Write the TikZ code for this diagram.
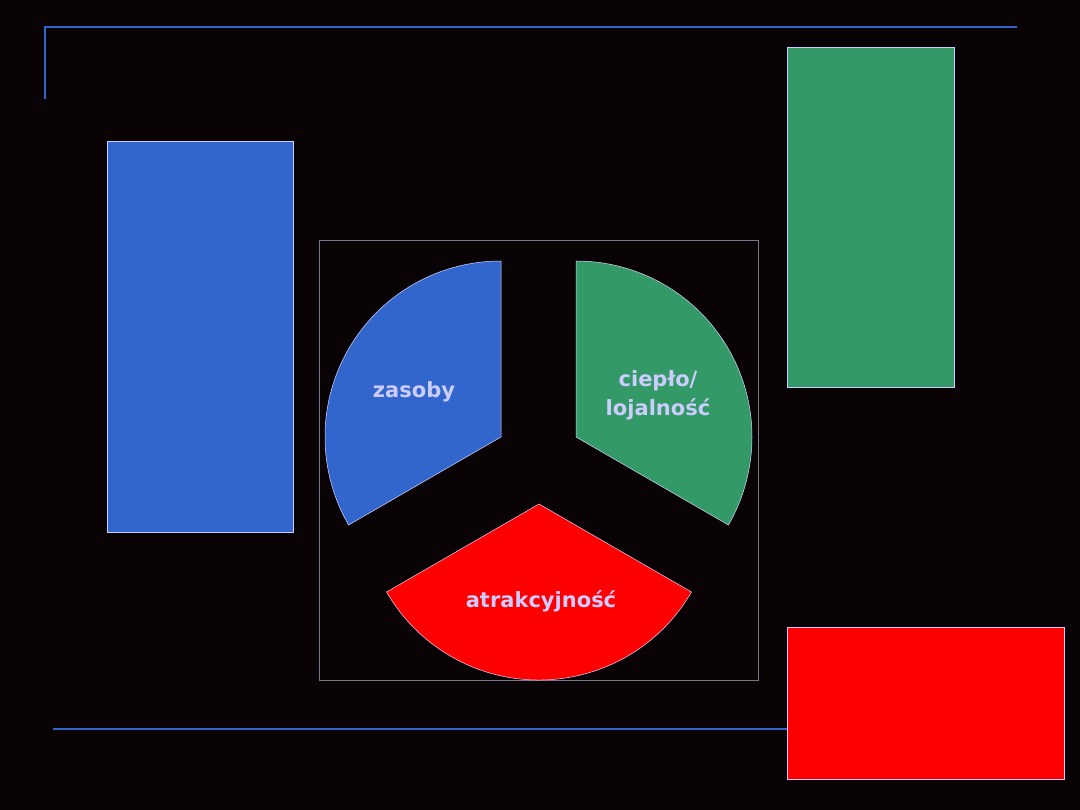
\documentclass[tikz,border=0pt]{standalone}
\usepackage{fontspec}
\setmainfont{DejaVu Sans}
\definecolor{bg}{HTML}{0A0306}
\definecolor{myblue}{HTML}{3366CC}
\definecolor{mygreen}{HTML}{339966}
\definecolor{myred}{HTML}{FF0000}
\definecolor{lav}{HTML}{CCCCFF}
\definecolor{boxgray}{HTML}{77778A}
\begin{document}
\begin{tikzpicture}[x=1pt,y=-1pt,
  rule/.style={draw=myblue,line width=2.2pt},
  block/.style={draw=lav,line width=0.8pt},
  slice/.style={draw=lav!80!white,line width=0.5pt},
  lbl/.style={text=lav,font=\fontsize{21}{29}\selectfont\bfseries,align=center,inner sep=0pt}]
\fill[bg] (0,0) rectangle (1080,810);
\useasboundingbox (0,0) rectangle (1080,810);
% decorative rules
\draw[rule] (45,99) -- (45,27) -- (1017,27);
\draw[rule] (53,729) -- (787,729);
% side blocks
\path[block,fill=myblue] (107,141) rectangle (293,532);
\path[block,fill=mygreen] (787,47) rectangle (954,387);
\path[block,fill=myred] (787,627) rectangle (1064,779);
% chart frame
\draw[boxgray,line width=0.8pt] (319,240) rectangle (758,680);
% pie slices (y axis flipped: angles mirrored)
\path[slice,fill=myblue] (501,437) -- ++(0,-176) arc[start angle=-90,end angle=-210,radius=176] -- cycle;
\path[slice,fill=mygreen] (576,437) -- ++(0,-176) arc[start angle=-90,end angle=30,radius=176] -- cycle;
\path[slice,fill=myred] (539,504) -- ++(30:176) arc[start angle=30,end angle=150,radius=176] -- cycle;
% labels
\node[lbl] (zas) at (414,392) {zasoby};
\node[lbl] (cie) at (658,395) {ciepło/\\lojalność};
\node[lbl] (atr) at (541,601) {atrakcyjność};
\end{tikzpicture}
\end{document}
